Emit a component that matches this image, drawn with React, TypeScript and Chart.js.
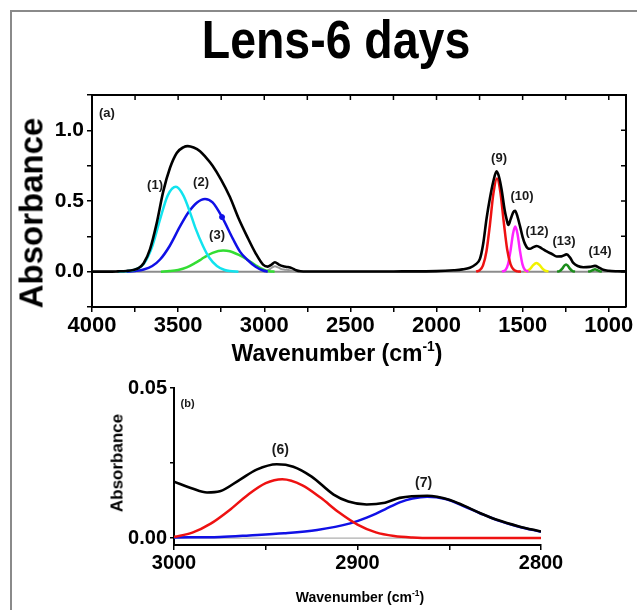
import React, { useEffect, useRef } from 'react';
import { Chart, registerables } from 'chart.js';

Chart.register(...registerables);

const FONT = "'Liberation Sans', Arial, Helvetica, sans-serif";

// ---------- Panel (a): full spectrum ----------
const A_X_TICKS = [1000, 1250, 1500, 1750, 2000, 2250, 2500, 2750, 3000, 3250, 3500, 3750, 4000];
const A_X_LABELED = [1000, 1500, 2000, 2500, 3000, 3500, 4000];
const A_Y_TICKS = [-0.25, 0, 0.25, 0.5, 0.75, 1.0, 1.25];
const A_Y_LABELED = [0, 0.5, 1.0];

// [wavenumber, absorbance]
const A_TOTAL: [number, number][] = [
  [4000, 0], [3900, 0], [3850, 0.002], [3800, 0.005], [3760, 0.012], [3730, 0.025], [3700, 0.06],
  [3663, 0.16], [3625, 0.34], [3586, 0.57], [3547, 0.735], [3508, 0.84], [3470, 0.88], [3444, 0.888],
  [3410, 0.878], [3373, 0.852], [3340, 0.81], [3300, 0.75], [3250, 0.65], [3200, 0.53], [3150, 0.38],
  [3100, 0.25], [3050, 0.13], [3007, 0.05], [2980, 0.036], [2960, 0.048], [2938, 0.067], [2915, 0.05],
  [2890, 0.038], [2865, 0.033], [2840, 0.025], [2815, 0.01], [2790, 0.003], [2750, 0.001], [2600, 0.001],
  [2400, 0.001], [2200, 0.002], [2000, 0.004], [1900, 0.01], [1850, 0.016], [1806, 0.028], [1775, 0.05],
  [1748, 0.09], [1730, 0.19], [1709, 0.38], [1690, 0.52], [1670, 0.64], [1651, 0.71], [1637, 0.67],
  [1622, 0.58], [1605, 0.44], [1593, 0.37], [1583, 0.33], [1570, 0.37], [1555, 0.42], [1544, 0.43],
  [1530, 0.39], [1515, 0.32], [1500, 0.245], [1486, 0.195], [1470, 0.165], [1457, 0.162], [1440, 0.172],
  [1418, 0.182], [1390, 0.165], [1360, 0.143], [1330, 0.125], [1302, 0.107], [1275, 0.108], [1244, 0.122],
  [1225, 0.1], [1206, 0.062], [1180, 0.04], [1148, 0.031], [1110, 0.034], [1080, 0.041], [1055, 0.028],
  [1032, 0.013], [1000, 0.006], [950, 0.003], [900, 0.002],
];
const A_BAND1: [number, number][] = [
  [3850, 0], [3800, 0.003], [3750, 0.015], [3700, 0.055], [3650, 0.18], [3605, 0.37], [3560, 0.54],
  [3513, 0.6], [3470, 0.54], [3431, 0.42], [3400, 0.31], [3355, 0.18], [3320, 0.1], [3275, 0.04],
  [3230, 0.012], [3200, 0.004], [3150, 0],
];
const A_BAND2: [number, number][] = [
  [3800, 0], [3750, 0.005], [3700, 0.015], [3650, 0.04], [3605, 0.086], [3550, 0.18], [3489, 0.32],
  [3440, 0.42], [3390, 0.49], [3344, 0.515], [3300, 0.49], [3245, 0.386], [3181, 0.23], [3140, 0.14],
  [3100, 0.086], [3050, 0.035], [3007, 0.008], [2980, 0],
];
const A_BAND3: [number, number][] = [
  [3600, 0], [3550, 0.004], [3500, 0.012], [3450, 0.03], [3400, 0.062], [3373, 0.082], [3350, 0.1],
  [3300, 0.133], [3239, 0.15], [3200, 0.145], [3150, 0.12], [3100, 0.086], [3050, 0.045], [3000, 0.012],
  [2970, 0.003], [2940, 0],
];
const A_CH: [number, number][] = [
  [3000, 0], [2985, 0.005], [2965, 0.02], [2950, 0.033], [2938, 0.038], [2920, 0.03], [2900, 0.018],
  [2880, 0.014], [2860, 0.012], [2840, 0.006], [2820, 0.001], [2800, 0],
];
const A_BAND9: [number, number][] = [
  [1770, 0], [1750, 0.01], [1730, 0.045], [1710, 0.145], [1690, 0.332], [1670, 0.551], [1649, 0.66],
  [1630, 0.569], [1610, 0.355], [1590, 0.159], [1570, 0.052], [1550, 0.012], [1530, 0.002], [1510, 0],
];
const A_BAND10: [number, number][] = [
  [1620, 0.001], [1600, 0.011], [1585, 0.052], [1570, 0.151], [1556, 0.269], [1543, 0.32], [1530, 0.269],
  [1516, 0.151], [1501, 0.052], [1486, 0.011], [1466, 0.001],
];
const A_BAND12: [number, number][] = [
  [1490, 0.001], [1470, 0.007], [1455, 0.021], [1440, 0.044], [1420, 0.062], [1400, 0.044], [1385, 0.021],
  [1370, 0.007], [1350, 0.001],
];
const A_BAND13: [number, number][] = [
  [1300, 0.0005], [1285, 0.0047], [1270, 0.0216], [1258, 0.042], [1248, 0.05], [1238, 0.042],
  [1226, 0.0216], [1211, 0.0047], [1196, 0.0005],
];
const A_BAND14: [number, number][] = [
  [1120, 0.0003], [1105, 0.0035], [1092, 0.0118], [1080, 0.017], [1068, 0.0118], [1055, 0.0035],
  [1040, 0.0003],
];
const A_BASELINE: [number, number][] = [[4000, 0], [900, 0]];
const A_MARKER: [number, number][] = [[3245, 0.386]];

const A_LABEL_TEXT = ['(1)', '(2)', '(3)', '(9)', '(10)', '(12)', '(13)', '(14)'];
const A_LABEL_WN = [3634, 3367, 3274, 1637, 1504, 1417, 1260, 1051];
const A_LABEL_ABS = [0.607, 0.629, 0.257, 0.8, 0.529, 0.286, 0.214, 0.143];

// ---------- Panel (b): 3000-2800 zoom ----------
const B_X_TICKS = [2800, 2850, 2900, 2950, 3000];
const B_X_LABELED = [2800, 2900, 3000];
const B_Y_TICKS = [0, 0.025, 0.05];
const B_Y_LABELED = [0, 0.05];

const B_TOTAL: [number, number][] = [
  [3000, 0.0188], [2990, 0.0165], [2982, 0.0152], [2975, 0.0156], [2964, 0.0195], [2955, 0.0228],
  [2944, 0.0246], [2935, 0.0238], [2925, 0.0205], [2913, 0.0145], [2905, 0.0122], [2895, 0.0112],
  [2885, 0.0118], [2877, 0.0134], [2862, 0.0141], [2850, 0.0128], [2842, 0.0108], [2833, 0.0083],
  [2824, 0.0061], [2812, 0.0039], [2800, 0.0022],
];
const B_BAND6: [number, number][] = [
  [3000, 0.0004], [2990, 0.0018], [2980, 0.0048], [2970, 0.0092], [2960, 0.0143], [2950, 0.0183],
  [2941, 0.0196], [2930, 0.0176], [2920, 0.0134], [2910, 0.0085], [2900, 0.0045], [2890, 0.0019],
  [2880, 0.0007], [2870, 0.0002], [2860, 0], [2800, 0],
];
const B_BAND7: [number, number][] = [
  [3000, 0.0002], [2975, 0.0004], [2959, 0.0009], [2940, 0.0016], [2922, 0.0027], [2904, 0.0049],
  [2895, 0.0068], [2885, 0.0096], [2877, 0.0119], [2870, 0.0132], [2862, 0.0138], [2852, 0.013],
  [2842, 0.0106], [2833, 0.0082], [2824, 0.006], [2812, 0.0038], [2800, 0.0021],
];
const B_BASELINE: [number, number][] = [[3000, 0], [2800, 0]];

const B_LABEL_TEXT = ['(6)', '(7)'];
const B_LABEL_WN = [2942, 2864];
const B_LABEL_ABS = [0.0293, 0.0183];

const line = (pts: [number, number][], color: string, width = 2.5) => ({
  data: pts.map(([x, y]) => ({ x, y })),
  borderColor: color,
  backgroundColor: color,
  borderWidth: width,
  pointRadius: 0,
  fill: false,
  cubicInterpolationMode: 'monotone' as const,
});

const mirrorPlugin = (xTicks: number[], yTicks: number[]) => ({
  id: 'mirrorFrame',
  afterDatasetsDraw(chart: any) {
    const { ctx, chartArea: a, scales } = chart;
    ctx.save();
    ctx.strokeStyle = '#000';
    ctx.lineWidth = 2;
    ctx.beginPath();
    ctx.moveTo(a.left, a.top);
    ctx.lineTo(a.right, a.top);
    ctx.lineTo(a.right, a.bottom);
    ctx.stroke();
    ctx.lineWidth = 1.5;
    ctx.beginPath();
    xTicks.forEach((v) => {
      const p = scales.x.getPixelForValue(v);
      ctx.moveTo(p, a.top);
      ctx.lineTo(p, a.top + 5);
    });
    yTicks.forEach((v) => {
      const p = scales.y.getPixelForValue(v);
      ctx.moveTo(a.right, p);
      ctx.lineTo(a.right - 5, p);
    });
    ctx.stroke();
    ctx.restore();
  },
});

const labelPlugin = (texts: string[], xs: number[], ys: number[], size: number, panel: string, px: number, py: number, psize: number) => ({
  id: 'bandLabels',
  afterDatasetsDraw(chart: any) {
    const { ctx, scales } = chart;
    ctx.save();
    ctx.fillStyle = '#1a1a1a';
    ctx.textAlign = 'center';
    ctx.textBaseline = 'middle';
    ctx.font = `bold ${size}px ${FONT}`;
    texts.forEach((t, i) => {
      ctx.fillText(t, scales.x.getPixelForValue(xs[i]), scales.y.getPixelForValue(ys[i]));
    });
    ctx.font = `bold ${psize}px ${FONT}`;
    ctx.fillText(panel, scales.x.getPixelForValue(px), scales.y.getPixelForValue(py));
    ctx.restore();
  },
});

export default function App() {
  const refA = useRef<HTMLCanvasElement>(null);
  const refB = useRef<HTMLCanvasElement>(null);

  useEffect(() => {
    Chart.defaults.font.family = FONT;
    Chart.defaults.color = '#000';

    const chartA = new Chart(refA.current as HTMLCanvasElement, {
      type: 'line',
      data: {
        datasets: [
          line(A_TOTAL, '#000000', 2.6),
          {
            data: A_MARKER.map(([x, y]) => ({ x, y })),
            showLine: false,
            pointRadius: 2.5,
            pointBackgroundColor: '#1010e6',
            pointBorderColor: '#1010e6',
            borderColor: '#1010e6',
          } as any,
          line(A_BAND9, '#ee1111'),
          line(A_BAND10, '#ff22ff'),
          line(A_BAND12, '#f2f200'),
          line(A_BAND13, '#1a8c1a'),
          line(A_BAND14, '#1a8c1a'),
          line(A_BAND1, '#11e3ee'),
          line(A_BAND2, '#1010e6'),
          line(A_BAND3, '#33dd33'),
          line(A_CH, '#999999', 2),
          line(A_BASELINE, '#8c8c8c', 2),
        ],
      },
      options: {
        responsive: false,
        animation: false,
        devicePixelRatio: 1,
        layout: { padding: { top: 35, right: 11, left: 0, bottom: 0 } },
        plugins: { legend: { display: false }, tooltip: { enabled: false } },
        scales: {
          x: {
            type: 'linear',
            min: 900,
            max: 4000,
            reverse: true,
            afterBuildTicks: (s: any) => { s.ticks = A_X_TICKS.map((v) => ({ value: v })); },
            afterFit: (s: any) => { s.height = 73; },
            ticks: {
              autoSkip: false,
              maxRotation: 0,
              padding: 1,
              font: { size: 22, weight: 'bold' },
              color: '#000',
              callback: (v: any) => (A_X_LABELED.includes(Number(v)) ? String(v) : ''),
            },
            grid: { display: true, drawOnChartArea: false, drawTicks: true, tickLength: 5, color: '#000', lineWidth: 1.5 },
            border: { display: true, color: '#000', width: 2 },
          },
          y: {
            type: 'linear',
            min: -0.25,
            max: 1.25,
            afterBuildTicks: (s: any) => { s.ticks = A_Y_TICKS.map((v) => ({ value: v })); },
            afterFit: (s: any) => { s.width = 92; },
            ticks: {
              autoSkip: false,
              padding: 3,
              font: { size: 21, weight: 'bold' },
              color: '#000',
              callback: (v: any) => (A_Y_LABELED.includes(Number(v)) ? Number(v).toFixed(1) : ''),
            },
            grid: { display: true, drawOnChartArea: false, drawTicks: true, tickLength: 5, color: '#000', lineWidth: 1.5 },
            border: { display: true, color: '#000', width: 2 },
          },
        },
      } as any,
      plugins: [
        mirrorPlugin(A_X_TICKS, A_Y_TICKS),
        labelPlugin(A_LABEL_TEXT, A_LABEL_WN, A_LABEL_ABS, 13, '(a)', 3913, 1.118, 13),
      ],
    });

    const chartB = new Chart(refB.current as HTMLCanvasElement, {
      type: 'line',
      data: {
        datasets: [
          line(B_TOTAL, '#000000', 2.6),
          line(B_BAND6, '#ee1111'),
          line(B_BAND7, '#1010e6'),
          line(B_BASELINE, '#9a9a9a', 1),
        ],
      },
      options: {
        responsive: false,
        animation: false,
        devicePixelRatio: 1,
        layout: { padding: { top: 18, right: 96, left: 0, bottom: 0 } },
        plugins: { legend: { display: false }, tooltip: { enabled: false } },
        scales: {
          x: {
            type: 'linear',
            min: 2800,
            max: 3000,
            reverse: true,
            afterBuildTicks: (s: any) => { s.ticks = B_X_TICKS.map((v) => ({ value: v })); },
            afterFit: (s: any) => { s.height = 75; },
            ticks: {
              autoSkip: false,
              maxRotation: 0,
              padding: 1,
              font: { size: 20, weight: 'bold' },
              color: '#000',
              callback: (v: any) => (B_X_LABELED.includes(Number(v)) ? String(v) : ''),
            },
            grid: { display: true, drawOnChartArea: false, drawTicks: true, tickLength: 5, color: '#000', lineWidth: 1.5 },
            border: { display: true, color: '#000', width: 2 },
          },
          y: {
            type: 'linear',
            min: -0.0023,
            max: 0.05,
            afterBuildTicks: (s: any) => { s.ticks = B_Y_TICKS.map((v) => ({ value: v })); },
            afterFit: (s: any) => { s.width = 174; },
            ticks: {
              autoSkip: false,
              padding: 3,
              font: { size: 20, weight: 'bold' },
              color: '#000',
              callback: (v: any) => (B_Y_LABELED.includes(Number(v)) ? Number(v).toFixed(2) : ''),
            },
            grid: { display: true, drawOnChartArea: false, drawTicks: true, tickLength: 4, color: '#000', lineWidth: 1.5 },
            border: { display: true, color: '#000', width: 2 },
          },
        },
      } as any,
      plugins: [labelPlugin(B_LABEL_TEXT, B_LABEL_WN, B_LABEL_ABS, 14, '(b)', 2992.6, 0.0448, 11)],
    });

    return () => {
      chartA.destroy();
      chartB.destroy();
    };
  }, []);

  const bold = { fontFamily: FONT, fontWeight: 'bold' as const, color: '#000', whiteSpace: 'nowrap' as const, position: 'absolute' as const };

  return (
    <div style={{ position: 'fixed', left: 0, top: 0, width: 637, height: 610, background: '#fff', overflow: 'hidden' }}>
      <div style={{ position: 'absolute', left: 10, top: 10, width: 700, height: 700, borderLeft: '2px solid #8a8a8a', borderTop: '2px solid #8a8a8a' }} />
      <div style={{ ...bold, left: 0, top: 12, width: 672, textAlign: 'center', fontSize: 54, lineHeight: '54px', transform: 'scaleX(0.86)', transformOrigin: '336px 0' }}>
        Lens-6 days
      </div>
      <canvas ref={refA} width={637} height={320} style={{ position: 'absolute', left: 0, top: 60 }} />
      <canvas ref={refB} width={637} height={250} style={{ position: 'absolute', left: 0, top: 370 }} />
      <div style={{ ...bold, left: 31, top: 213, fontSize: 33, lineHeight: '33px', transform: 'translate(-50%, -50%) rotate(-90deg)' }}>
        Absorbance
      </div>
      <div style={{ ...bold, left: 337, top: 350, fontSize: 23, lineHeight: '23px', transform: 'translate(-50%, -50%)' }}>
        Wavenumber (cm<sup style={{ fontSize: '0.6em', verticalAlign: '0.75em' }}>-1</sup>)
      </div>
      <div style={{ ...bold, left: 117, top: 463, fontSize: 17, lineHeight: '17px', transform: 'translate(-50%, -50%) rotate(-90deg)' }}>
        Absorbance
      </div>
      <div style={{ ...bold, left: 360, top: 595, fontSize: 14, lineHeight: '14px', transform: 'translate(-50%, -50%)' }}>
        Wavenumber (cm<sup style={{ fontSize: '0.6em', verticalAlign: '0.75em' }}>-1</sup>)
      </div>
    </div>
  );
}
